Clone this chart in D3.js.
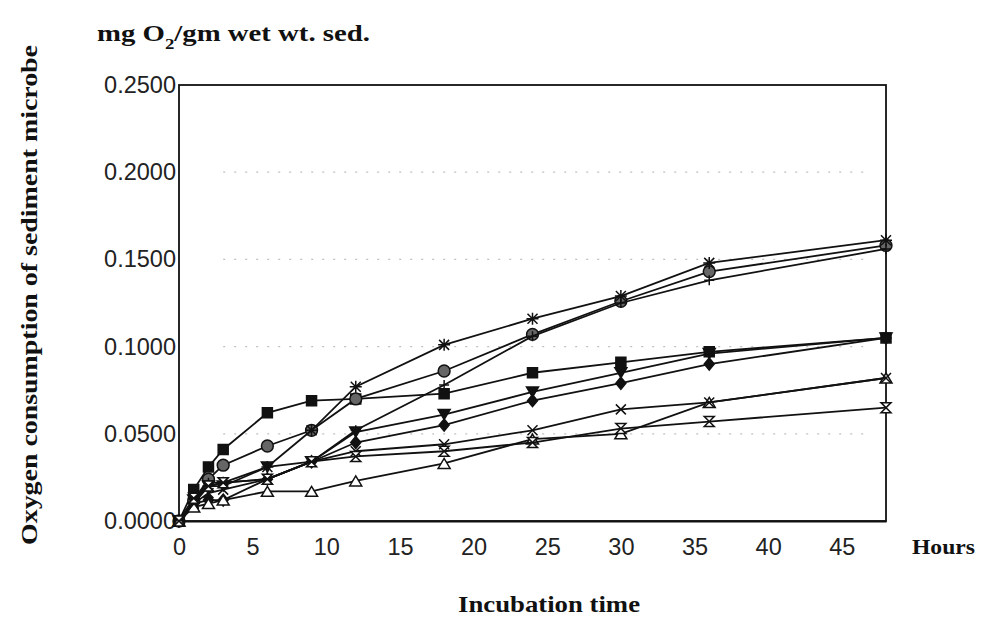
<!DOCTYPE html>
<html>
<head>
<meta charset="utf-8">
<script src="https://cdn.jsdelivr.net/npm/d3@7"></script>
<style>
  body { margin: 0; background: #fff; }
  .tick text { font-family: "Liberation Sans", Arial, sans-serif; font-size: 23.5px; fill: #222; }
  .title { font-family: "Liberation Serif", "DejaVu Serif", serif; font-weight: bold; fill: #111; }
</style>
</head>
<body>
<svg id="chart"></svg>
<script>
// incubation time (hours)
const hours = [0, 1, 2, 3, 6, 9, 12, 18, 24, 30, 36, 48];

// oxygen consumption (mg O2/gm wet wt. sed.), one array per sample
const sSquare    = [0, 0.018, 0.031, 0.041, 0.062, 0.069, 0.070, 0.073, 0.085, 0.091, 0.097, 0.105];
const sCircle    = [0, 0.012, 0.024, 0.032, 0.043, 0.052, 0.070, 0.086, 0.107, 0.126, 0.143, 0.158];
const sStar      = [0, 0.010, 0.020, 0.022, 0.031, 0.052, 0.077, 0.101, 0.116, 0.129, 0.148, 0.161];
const sPlus      = [0, 0.013, 0.022, 0.022, 0.024, 0.034, 0.052, 0.078, 0.106, 0.125, 0.138, 0.156];
const sTriDown   = [0, 0.012, 0.020, 0.020, 0.031, 0.034, 0.051, 0.061, 0.074, 0.085, 0.096, 0.105];
const sDiamond   = [0, 0.010, 0.012, 0.012, 0.024, 0.034, 0.045, 0.055, 0.069, 0.079, 0.090, 0.105];
const sTriUp     = [0, 0.008, 0.010, 0.012, 0.017, 0.017, 0.023, 0.033, 0.047, 0.050, 0.068, 0.082];
const sCross     = [0, 0.010, 0.016, 0.018, 0.024, 0.034, 0.040, 0.044, 0.052, 0.064, 0.068, 0.082];
const sHourglass = [0, 0.013, 0.020, 0.022, 0.024, 0.034, 0.037, 0.040, 0.045, 0.053, 0.057, 0.065];

const yTicks = [0, 0.05, 0.10, 0.15, 0.20, 0.25];
const xTicks = [0, 5, 10, 15, 20, 25, 30, 35, 40, 45];
const gridLevels = [0.05, 0.10, 0.15, 0.20];

const series = [
  { marker: 'square', values: sSquare },
  { marker: 'circle', values: sCircle },
  { marker: 'star', values: sStar },
  { marker: 'plus', values: sPlus },
  { marker: 'tridown', values: sTriDown },
  { marker: 'diamond', values: sDiamond },
  { marker: 'triup', values: sTriUp },
  { marker: 'cross', values: sCross },
  { marker: 'hourglass', values: sHourglass }
];

const W = 984, H = 627;
const margin = { top: 85, right: 98, bottom: 106, left: 179 };
const width = W - margin.left - margin.right;
const height = H - margin.top - margin.bottom;

const svg = d3.select('#chart').attr('width', W).attr('height', H);
const chart = svg.append('g').attr('transform', `translate(${margin.left},${margin.top})`);

const x = d3.scaleLinear().domain([0, 48]).range([0, width]);
const y = d3.scaleLinear().domain([0, 0.25]).range([height, 0]);

// faint dotted grid lines (faded in the scan)
chart.selectAll('.grid')
  .data(gridLevels)
  .join('line')
    .attr('x1', x(3)).attr('x2', x(47))
    .attr('y1', d => y(d)).attr('y2', d => y(d))
    .attr('stroke', '#999')
    .attr('stroke-width', 1.2)
    .attr('stroke-dasharray', '2,9')
    .attr('opacity', 0.6);

// frame
chart.append('rect')
  .attr('width', width).attr('height', height)
  .attr('fill', 'none').attr('stroke', '#111').attr('stroke-width', 1.8);

const xAxis = d3.axisBottom(x).tickValues(xTicks).tickSize(0).tickPadding(17).tickFormat(d3.format('d'));
const yAxis = d3.axisLeft(y).tickValues(yTicks).tickSize(0).tickPadding(3).tickFormat(d3.format('.4f'));

chart.append('g').attr('transform', `translate(0,${height})`).call(xAxis)
  .call(g => g.select('.domain').attr('stroke', '#111').attr('stroke-width', 2));
chart.append('g').call(yAxis)
  .call(g => g.select('.domain').remove());

// marker shapes
function markerPath(type) {
  const r = 5;
  switch (type) {
    case 'square': return `M${-r},${-r}h${2*r}v${2*r}h${-2*r}Z`;
    case 'circle': return d3.symbol(d3.symbolCircle, 110)();
    case 'diamond': return `M0,${-r-1}L${r},0L0,${r+1}L${-r},0Z`;
    case 'tridown': return `M${-r-1},${-r}L${r+1},${-r}L0,${r}Z`;
    case 'triup': return `M0,${-r}L${r+1},${r}L${-r-1},${r}Z`;
    case 'hourglass': return `M${-r},${-r}L${r},${-r}L${-r},${r}L${r},${r}Z`;
    case 'star': return `M${-r-1},0H${r+1}M0,${-r-1}V${r+1}M${-r},${-r}L${r},${r}M${-r},${r}L${r},${-r}`;
    case 'plus': return `M${-r},0H${r}M0,${-r}V${r}`;
    case 'cross': return `M${-r},${-r}L${r},${r}M${-r},${r}L${r},${-r}`;
  }
}
const fills = { square: '#111', circle: '#666', diamond: '#111', tridown: '#111',
  triup: '#fff', hourglass: '#fff', star: 'none', plus: 'none', cross: 'none' };

const line = d3.line().x((d, i) => x(hours[i])).y(d => y(d));

const sg = chart.selectAll('.series')
  .data(series)
  .join('g')
    .attr('class', 'series');

sg.append('path')
  .attr('d', d => line(d.values))
  .attr('fill', 'none')
  .attr('stroke', '#111')
  .attr('stroke-width', 1.8);

sg.each(function(s) {
  d3.select(this).selectAll('path.mk')
    .data(s.values)
    .join('path')
      .attr('class', 'mk')
      .attr('transform', (d, i) => `translate(${x(hours[i])},${y(d)})`)
      .attr('d', markerPath(s.marker))
      .attr('fill', fills[s.marker])
      .attr('stroke', '#111')
      .attr('stroke-width', 1.5);
});

// titles (stretched to the width of the scanned lettering)
svg.append('text').attr('class', 'title')
  .attr('x', 97).attr('y', 41).attr('font-size', 23)
  .attr('textLength', 273).attr('lengthAdjust', 'spacingAndGlyphs')
  .html('mg O<tspan baseline-shift="sub" font-size="15">2</tspan>/gm wet wt. sed.');

svg.append('text').attr('class', 'title')
  .attr('transform', `translate(37,295) rotate(-90)`)
  .attr('text-anchor', 'middle').attr('font-size', 23)
  .attr('textLength', 500).attr('lengthAdjust', 'spacingAndGlyphs')
  .text('Oxygen consumption of sediment microbe');

svg.append('text').attr('class', 'title')
  .attr('x', 549).attr('y', 612).attr('text-anchor', 'middle').attr('font-size', 23)
  .attr('textLength', 182).attr('lengthAdjust', 'spacingAndGlyphs')
  .text('Incubation time');

svg.append('text').attr('class', 'title')
  .attr('x', 912).attr('y', 554).attr('font-size', 22)
  .attr('textLength', 63).attr('lengthAdjust', 'spacingAndGlyphs')
  .text('Hours');
</script>
</body>
</html>
